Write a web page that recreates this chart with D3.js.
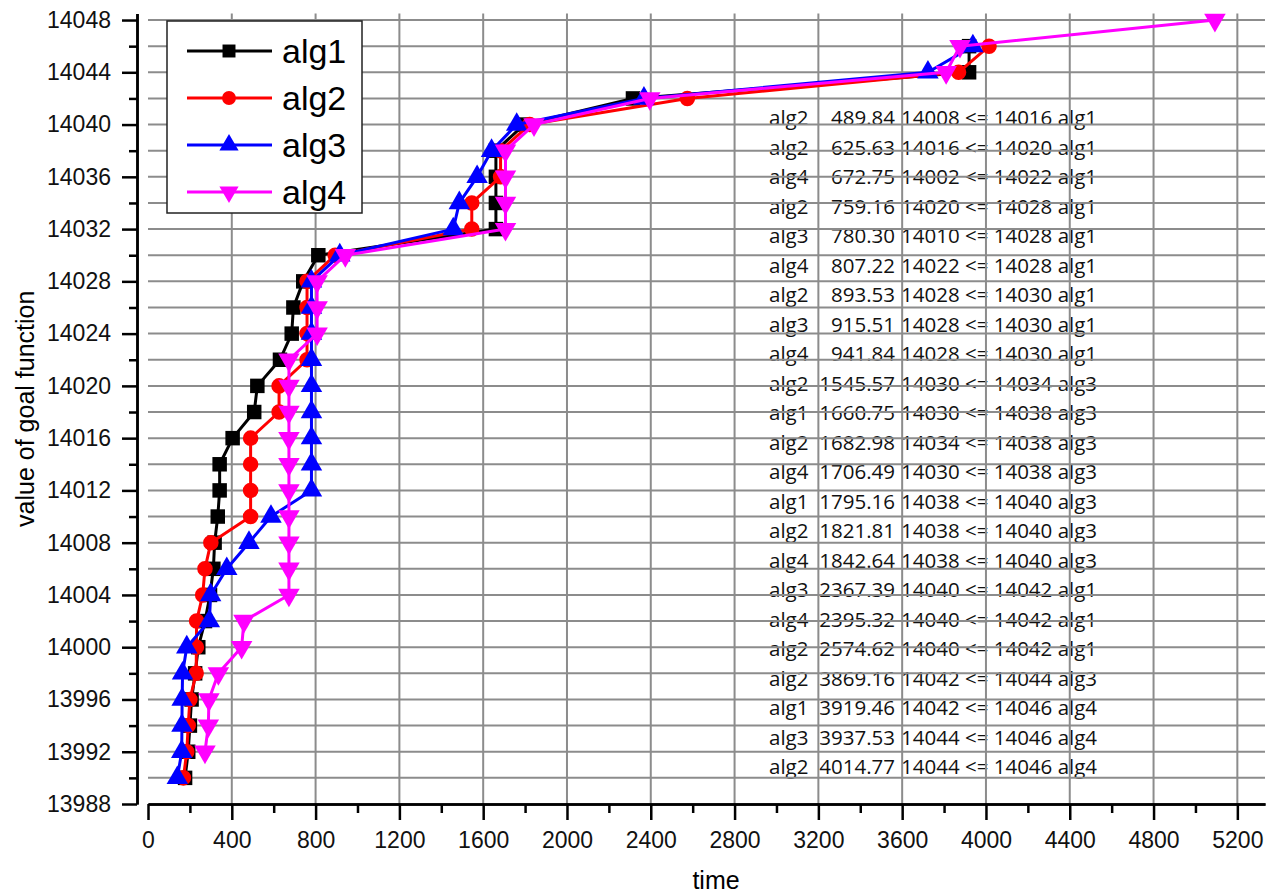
<!DOCTYPE html>
<html>
<head>
<meta charset="utf-8">
<script src="https://cdn.jsdelivr.net/npm/d3@7"></script>
<style>
  body { margin: 0; background: #fff; }
  svg { display: block; }
</style>
</head>
<body>
<div id="chart"></div>
<script>

// DATA

const algNames = ["alg1", "alg2", "alg3", "alg4"];
const algColors = ["#000000", "#ff0000", "#0000ff", "#ff00ff"];

const alg1Value = [13990, 13992, 13994, 13996, 13998, 14000, 14002, 14004, 14006, 14008, 14010, 14012, 14014, 14016, 14018, 14020, 14022, 14024, 14026, 14028, 14030, 14032, 14034, 14036, 14038, 14040, 14042, 14044, 14046];
const alg1Time  = [177, 192, 200, 208, 225, 240, 272, 296, 312, 318, 333, 342, 342, 404, 507, 522, 630, 686, 694, 741, 813, 1660.75, 1660.75, 1660.75, 1660.75, 1795.16, 2315, 3919.46, 3919.46];

const alg2Value = [13990, 13992, 13994, 13996, 13998, 14000, 14002, 14004, 14006, 14008, 14010, 14012, 14014, 14016, 14018, 14020, 14022, 14024, 14026, 14028, 14030, 14032, 14034, 14036, 14038, 14040, 14042, 14044, 14046];
const alg2Time  = [169, 185, 192, 200, 230, 231, 232, 261, 272, 300, 489.84, 489.84, 489.84, 489.84, 625.63, 625.63, 759.16, 759.16, 759.16, 759.16, 893.53, 1545.57, 1545.57, 1682.98, 1682.98, 1821.81, 2574.62, 3869.16, 4014.77];

const alg3Value = [13990, 13992, 13994, 13996, 13998, 14000, 14002, 14004, 14006, 14008, 14010, 14012, 14014, 14016, 14018, 14020, 14022, 14024, 14026, 14028, 14030, 14032, 14034, 14036, 14038, 14040, 14042, 14044, 14046];
const alg3Time  = [140, 161, 162, 163, 165, 185, 293, 299, 376, 482, 587, 780.30, 780.30, 780.30, 780.30, 780.30, 780.30, 780.30, 780.30, 780.30, 915.51, 1457, 1486, 1571, 1640, 1760, 2367.39, 3723, 3937.53];

const alg4Value = [13992, 13994, 13996, 13998, 14000, 14002, 14004, 14006, 14008, 14010, 14012, 14014, 14016, 14018, 14020, 14022, 14024, 14026, 14028, 14030, 14032, 14034, 14036, 14038, 14040, 14042, 14044, 14046, 14048];
const alg4Time  = [272, 288, 291, 336, 447, 458, 672.75, 672.75, 672.75, 672.75, 672.75, 672.75, 672.75, 672.75, 672.75, 672.75, 807.22, 807.22, 807.22, 941.84, 1706.49, 1706.49, 1706.49, 1706.49, 1842.64, 2395.32, 3810, 3876, 5093];

const xTickLabels = [0, 400, 800, 1200, 1600, 2000, 2400, 2800, 3200, 3600, 4000, 4400, 4800, 5200];
const yTickLabels = [13988, 13992, 13996, 14000, 14004, 14008, 14012, 14016, 14020, 14024, 14028, 14032, 14036, 14040, 14044, 14048];

// table written inside the plot
const noteAlg  = ["alg2", "alg2", "alg4", "alg2", "alg3", "alg4", "alg2", "alg3", "alg4", "alg2", "alg1", "alg2", "alg4", "alg1", "alg2", "alg4", "alg3", "alg4", "alg2", "alg2", "alg1", "alg3", "alg2"];
const noteTime = ["489.84", "625.63", "672.75", "759.16", "780.30", "807.22", "893.53", "915.51", "941.84", "1545.57", "1660.75", "1682.98", "1706.49", "1795.16", "1821.81", "1842.64", "2367.39", "2395.32", "2574.62", "3869.16", "3919.46", "3937.53", "4014.77"];
const noteText = ["14008 <= 14016 alg1", "14016 <= 14020 alg1", "14002 <= 14022 alg1", "14020 <= 14028 alg1", "14010 <= 14028 alg1", "14022 <= 14028 alg1", "14028 <= 14030 alg1", "14028 <= 14030 alg1", "14028 <= 14030 alg1", "14030 <= 14034 alg3", "14030 <= 14038 alg3", "14034 <= 14038 alg3", "14030 <= 14038 alg3", "14038 <= 14040 alg3", "14038 <= 14040 alg3", "14038 <= 14040 alg3", "14040 <= 14042 alg1", "14040 <= 14042 alg1", "14040 <= 14042 alg1", "14042 <= 14044 alg3", "14042 <= 14046 alg4", "14044 <= 14046 alg4", "14044 <= 14046 alg4"];


// SIZES

const width = 1277, height = 894;
const plotLeft = 148, plotRight = 1265, plotTop = 13.5, plotBottom = 804;
const yAxisX = 137;

const svg = d3.select("#chart")
  .append("svg")
  .attr("width", width)
  .attr("height", height)
  .style("font-family", "'Liberation Sans', Arial, sans-serif");

const xScale = d3.scaleLinear()
  .domain([0, 5332])
  .range([plotLeft, plotRight]);

const yScale = d3.scaleLinear()
  .domain([13988, 14048.5])
  .range([plotBottom, plotTop]);


// notes first, the grid is drawn over them

const notes = noteAlg.map((a, i) => ({ alg: a, time: noteTime[i], text: noteText[i] }));
const noteY = d3.scalePoint()
  .domain(d3.range(notes.length))
  .range([117, 766]);

const gNotes = svg.append("g")
  .attr("font-family", "'Open Sans', sans-serif")
  .attr("font-size", 20.5)
  .attr("fill", "#111");

const noteRows = gNotes.selectAll("g")
  .data(notes)
  .enter()
  .append("g")
  .attr("transform", (d, i) => `translate(0,${noteY(i)})`);

noteRows.append("text").attr("x", 769).attr("dominant-baseline", "central").text(d => d.alg);
noteRows.append("text").attr("x", 895).attr("text-anchor", "end").attr("dominant-baseline", "central").text(d => d.time);
noteRows.append("text").attr("x", 901).attr("dominant-baseline", "central").text(d => d.text);


// grid

const gGrid = svg.append("g")
  .attr("stroke", "#8c8c8c")
  .attr("stroke-width", 2);

gGrid.selectAll(".hgrid")
  .data(d3.range(13990, 14049, 2))
  .enter()
  .append("line")
  .attr("x1", plotLeft).attr("x2", plotRight)
  .attr("y1", d => yScale(d)).attr("y2", d => yScale(d));

gGrid.selectAll(".vgrid")
  .data(xTickLabels.filter(d => d > 0))
  .enter()
  .append("line")
  .attr("y1", plotTop).attr("y2", plotBottom)
  .attr("x1", d => xScale(d)).attr("x2", d => xScale(d));


// axes

const gX = svg.append("g")
  .attr("transform", `translate(0,${plotBottom})`)
  .call(d3.axisBottom(xScale).tickValues(xTickLabels).tickSize(16).tickSizeOuter(0).tickPadding(12).tickFormat(d3.format("d")));

const gXminor = svg.append("g")
  .attr("transform", `translate(0,${plotBottom})`)
  .call(d3.axisBottom(xScale).tickValues(xTickLabels.map(d => d + 200)).tickSize(9).tickSizeOuter(0).tickFormat(""));

const gY = svg.append("g")
  .attr("transform", `translate(${yAxisX},0)`)
  .call(d3.axisLeft(yScale).tickValues(yTickLabels).tickSize(15).tickSizeOuter(0).tickPadding(11).tickFormat(d3.format("d")));

const gYminor = svg.append("g")
  .attr("transform", `translate(${yAxisX},0)`)
  .call(d3.axisLeft(yScale).tickValues(yTickLabels.map(d => d + 2).filter(d => d < 14048)).tickSize(8).tickSizeOuter(0).tickFormat(""));

[gX, gXminor, gY, gYminor].forEach(g => {
  g.selectAll("path, line").attr("stroke", "#000").attr("stroke-width", 2.5);
  g.selectAll("text")
    .attr("font-family", "'Liberation Sans', Arial, sans-serif")
    .attr("font-size", 23)
    .attr("fill", "#111");
});

svg.append("text")
  .attr("transform", `translate(25,${(plotTop + plotBottom) / 2}) rotate(-90)`)
  .attr("text-anchor", "middle")
  .attr("dominant-baseline", "central")
  .attr("font-size", 25)
  .text("value of goal function");

svg.append("text")
  .attr("x", 716)
  .attr("y", 880)
  .attr("text-anchor", "middle")
  .attr("dominant-baseline", "central")
  .attr("font-size", 25)
  .text("time");


// series

const series = [
  { name: "alg1", color: algColors[0], shape: d3.symbolSquare, size: 210, rot: 0, points: alg1Value.map((v, i) => ({ v: v, t: alg1Time[i] })) },
  { name: "alg2", color: algColors[1], shape: d3.symbolCircle, size: 190, rot: 0, points: alg2Value.map((v, i) => ({ v: v, t: alg2Time[i] })) },
  { name: "alg3", color: algColors[2], shape: d3.symbolTriangle, size: 200, rot: 0, points: alg3Value.map((v, i) => ({ v: v, t: alg3Time[i] })) },
  { name: "alg4", color: algColors[3], shape: d3.symbolTriangle, size: 200, rot: 180, points: alg4Value.map((v, i) => ({ v: v, t: alg4Time[i] })) }
];

const line = d3.line()
  .x(d => xScale(d.t))
  .y(d => yScale(d.v));

series.forEach(s => {
  const g = svg.append("g").attr("class", "serie");

  g.append("path")
    .datum(s.points)
    .attr("d", line)
    .attr("fill", "none")
    .attr("stroke", s.color)
    .attr("stroke-width", 3)
    .attr("stroke-linejoin", "round");

  g.selectAll("path.mark")
    .data(s.points)
    .enter()
    .append("path")
    .attr("class", "mark")
    .attr("d", d3.symbol().type(s.shape).size(s.size))
    .attr("transform", d => `translate(${xScale(d.t)},${yScale(d.v)}) rotate(${s.rot})`)
    .attr("fill", s.color);
});


// legend

const legend = svg.append("g");

legend.append("rect")
  .attr("x", 167).attr("y", 21)
  .attr("width", 195).attr("height", 192)
  .attr("fill", "#fff")
  .attr("stroke", "#222")
  .attr("stroke-width", 1.5);

const legendY = d3.scalePoint()
  .domain(algNames)
  .range([51, 192]);

const legRow = legend.selectAll(".leg")
  .data(series)
  .enter()
  .append("g")
  .attr("transform", d => `translate(0,${legendY(d.name)})`);

legRow.append("line")
  .attr("x1", 187).attr("x2", 272)
  .attr("stroke", d => d.color)
  .attr("stroke-width", 3);

legRow.append("path")
  .attr("d", d => d3.symbol().type(d.shape).size(d.size * 0.8)())
  .attr("transform", d => `translate(229,0) rotate(${d.rot})`)
  .attr("fill", d => d.color);

legRow.append("text")
  .attr("x", 282)
  .attr("dominant-baseline", "central")
  .attr("font-size", 34)
  .text(d => d.name);

</script>
</body>
</html>
